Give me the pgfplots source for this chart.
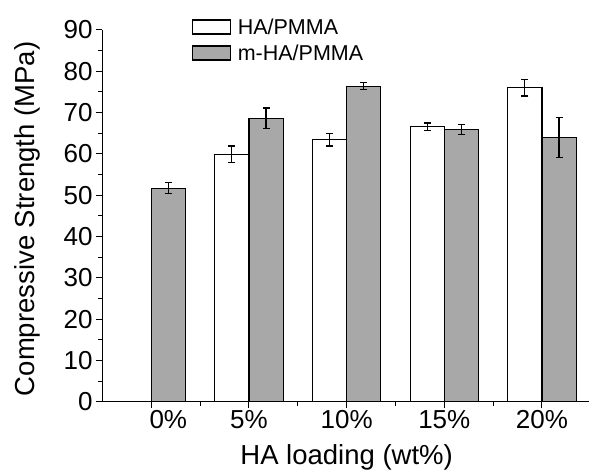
\documentclass[border=0pt]{standalone}
\usepackage{pgfplots}
\pgfplotsset{compat=1.18}
\usepackage{fontspec}
\setmainfont{Liberation Sans}
\definecolor{bargray}{RGB}{168,168,168}
\begin{document}
\begin{tikzpicture}
\begin{axis}[
  name=ax,
  scale only axis, width=488.3pt, height=371.7pt,
  xmin=-0.5, xmax=4.5, ymin=0, ymax=90,
  ybar=0pt, bar width=0.35,
  axis lines=left, axis line style={-, line width=1.2pt},
  xtick={0,1,2,3,4}, xticklabels={\hspace*{34pt}0\%,5\%,10\%,15\%,20\%},
  minor xtick={0.5,1.5,2.5,3.5},
  ytick={0,10,...,90}, minor ytick={5,15,...,85},
  tick align=outside, major tick length=6.5pt, minor tick length=4pt,
  tick style={line width=1pt, black},
  tick label style={font=\fontsize{26}{30}\selectfont},
  xticklabel style={yshift=1pt},
  /pgf/number format/assume math mode=true,
  xlabel={HA loading (wt\%)},
  ylabel={Compressive Strength (MPa)},
  every axis y label/.style={at={(rel axis cs:0,0.5)}, xshift=-75pt, yshift=-3pt, rotate=90, anchor=center, font=\fontsize{27.5}{30}\selectfont},
  every axis x label/.style={at={(rel axis cs:0.5,0)}, yshift=-63.3pt, anchor=base, font=\fontsize{27.5}{30}\selectfont},
  legend style={at={(0.182,1.037)}, anchor=north west, draw=none, fill=none,
    font=\fontsize{21.5}{24}\selectfont, row sep=5pt, column sep=5pt, inner sep=0pt},
  legend cell align=left,
  legend image code/.code={\draw[#1, line width=1.2pt] (0pt,-7pt) rectangle (38pt,7pt);},
  clip=false,
]
\addplot[fill=white, draw=black, line width=1.2pt,
  error bars/.cd, y dir=both, y explicit,
  error bar style={line width=1.2pt, black},
  error mark options={rotate=90, mark size=3.5pt, line width=1.2pt, black}]
  coordinates {(1,59.9) +- (0,2.0) (2,63.4) +- (0,1.5) (3,66.6) +- (0,0.9) (4,76.0) +- (0,2.0)};
\addlegendentry{HA/PMMA}
\addplot[fill=bargray, draw=black, line width=1.2pt,
  error bars/.cd, y dir=both, y explicit,
  error bar style={line width=1.2pt, black},
  error mark options={rotate=90, mark size=3.5pt, line width=1.2pt, black}]
  coordinates {(0,51.7) +- (0,1.3) (1,68.6) +- (0,2.5) (2,76.4) +- (0,0.8) (3,65.9) +- (0,1.2) (4,64.0) +- (0,4.8)};
\addlegendentry{m-HA/PMMA}
\end{axis}
\pgfresetboundingbox
\path[use as bounding box] ([xshift=-102.5pt, yshift=-68.3pt]ax.south west) rectangle ([xshift=486.5pt, yshift=30pt]ax.north west);
\end{tikzpicture}
\end{document}
